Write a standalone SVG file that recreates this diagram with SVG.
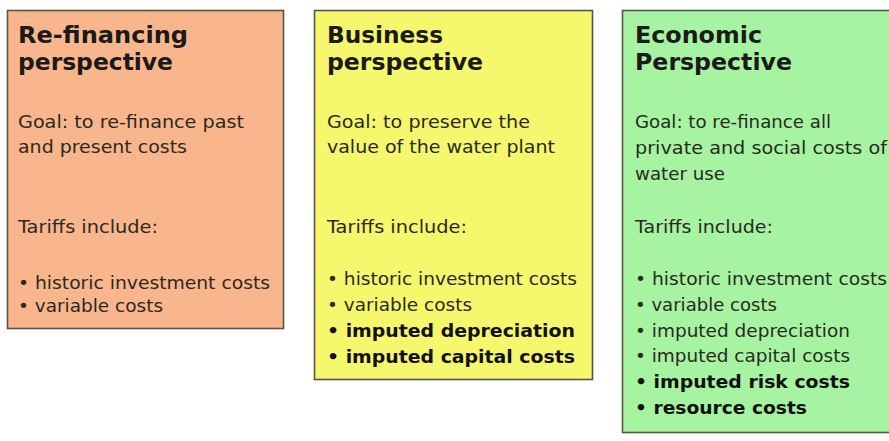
<svg xmlns="http://www.w3.org/2000/svg" width="889" height="441" viewBox="0 0 889 441">
<style>
.box{stroke:#55554a;stroke-width:1.6}
.t{font-family:"DejaVu Sans",Verdana,sans-serif;font-size:23px;font-weight:bold;fill:#1a1a1a}
.b{font-family:"DejaVu Sans",Verdana,sans-serif;font-size:17px;fill:#2a2a22}
.bb{font-weight:bold;fill:#111}
</style>
<rect width="889" height="441" fill="#ffffff"/>
<g id="refinancing">
<rect class="box" x="7.5" y="10.5" width="276" height="318" fill="#f9b58b"/>
<text class="t" x="18" y="43" textLength="170" lengthAdjust="spacingAndGlyphs">Re-financing</text>
<text class="t" x="18" y="70" textLength="155" lengthAdjust="spacingAndGlyphs">perspective</text>
<text class="b" x="18" y="128" textLength="226" lengthAdjust="spacingAndGlyphs">Goal: to re-finance past</text>
<text class="b" x="18" y="153" textLength="169" lengthAdjust="spacingAndGlyphs">and present costs</text>
<text class="b" x="18" y="233" textLength="140" lengthAdjust="spacingAndGlyphs">Tariffs include:</text>
<text class="b" x="18" y="289" textLength="252" lengthAdjust="spacingAndGlyphs">• historic investment costs</text>
<text class="b" x="18" y="312" textLength="145" lengthAdjust="spacingAndGlyphs">• variable costs</text>
</g>
<g id="business">
<rect class="box" x="314.5" y="10.5" width="278" height="369" fill="#f5f76c"/>
<text class="t" x="327" y="43" textLength="116" lengthAdjust="spacingAndGlyphs">Business</text>
<text class="t" x="327" y="70" textLength="156" lengthAdjust="spacingAndGlyphs">perspective</text>
<text class="b" x="327" y="128" textLength="203" lengthAdjust="spacingAndGlyphs">Goal: to preserve the</text>
<text class="b" x="327" y="153" textLength="228" lengthAdjust="spacingAndGlyphs">value of the water plant</text>
<text class="b" x="327" y="233" textLength="140" lengthAdjust="spacingAndGlyphs">Tariffs include:</text>
<text class="b" x="327" y="285" textLength="250" lengthAdjust="spacingAndGlyphs">• historic investment costs</text>
<text class="b" x="327" y="311" textLength="145" lengthAdjust="spacingAndGlyphs">• variable costs</text>
<text class="b bb" x="327" y="337" textLength="248" lengthAdjust="spacingAndGlyphs">• imputed depreciation</text>
<text class="b bb" x="327" y="363" textLength="248" lengthAdjust="spacingAndGlyphs">• imputed capital costs</text>
</g>
<g id="economic">
<rect class="box" x="622.5" y="10.5" width="280" height="422" fill="#a6f3a1"/>
<text class="t" x="635" y="43" textLength="127" lengthAdjust="spacingAndGlyphs">Economic</text>
<text class="t" x="635" y="70" textLength="157" lengthAdjust="spacingAndGlyphs">Perspective</text>
<text class="b" x="635" y="128" textLength="196" lengthAdjust="spacingAndGlyphs">Goal: to re-finance all</text>
<text class="b" x="635" y="154" textLength="252" lengthAdjust="spacingAndGlyphs">private and social costs of</text>
<text class="b" x="635" y="180" textLength="90" lengthAdjust="spacingAndGlyphs">water use</text>
<text class="b" x="635" y="233" textLength="138" lengthAdjust="spacingAndGlyphs">Tariffs include:</text>
<text class="b" x="635" y="285" textLength="252" lengthAdjust="spacingAndGlyphs">• historic investment costs</text>
<text class="b" x="635" y="311" textLength="142" lengthAdjust="spacingAndGlyphs">• variable costs</text>
<text class="b" x="635" y="337" textLength="215" lengthAdjust="spacingAndGlyphs">• imputed depreciation</text>
<text class="b" x="635" y="362" textLength="215" lengthAdjust="spacingAndGlyphs">• imputed capital costs</text>
<text class="b bb" x="635" y="388" textLength="215" lengthAdjust="spacingAndGlyphs">• imputed risk costs</text>
<text class="b bb" x="635" y="414" textLength="172" lengthAdjust="spacingAndGlyphs">• resource costs</text>
</g>
<g id="connectors"/>
</svg>
